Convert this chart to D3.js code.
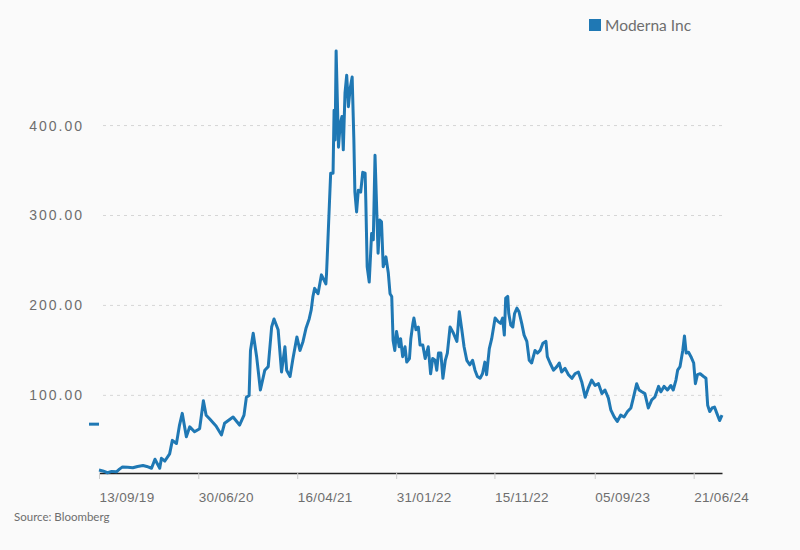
<!DOCTYPE html>
<html>
<head>
<meta charset="utf-8">
<script src="https://cdn.jsdelivr.net/npm/d3@7"></script>
<style>
  body { margin: 0; background: #fafafa; }
  svg { font-family: Lato, "Open Sans", sans-serif; }
  .line { fill: none; stroke: #1f78b4; stroke-width: 3; stroke-linejoin: round; }
  .grid line { stroke: #d6d6d6; stroke-dasharray: 3,4; }
  .label { fill: #6e6e6e; }
</style>
</head>
<body>
<script>
// Moderna Inc close
let dates = [
  "2019-09-13","2019-09-24","2019-10-08","2019-10-20","2019-11-03","2019-11-12","2019-11-21","2019-12-06",
  "2019-12-21","2020-01-04","2020-01-20","2020-01-31","2020-02-14","2020-02-24","2020-03-02","2020-03-09",
  "2020-03-14","2020-03-24","2020-04-07","2020-04-15","2020-04-27","2020-05-06","2020-05-14","2020-05-26",
  "2020-06-05","2020-06-19","2020-07-04","2020-07-15","2020-07-23","2020-08-02","2020-08-21","2020-09-06",
  "2020-09-15","2020-10-10","2020-10-29","2020-11-11","2020-11-18","2020-11-26","2020-11-30","2020-12-08",
  "2020-12-18","2020-12-29","2021-01-11","2021-01-21","2021-01-31","2021-02-07","2021-02-19","2021-03-01",
  "2021-03-11","2021-03-16","2021-03-26","2021-04-03","2021-04-15","2021-04-24","2021-05-03","2021-05-12",
  "2021-05-21","2021-05-27","2021-06-01","2021-06-06","2021-06-16","2021-06-26","2021-07-09","2021-07-11",
  "2021-07-19","2021-07-23","2021-07-30","2021-08-02","2021-08-05","2021-08-08","2021-08-15","2021-08-20",
  "2021-08-25","2021-08-29","2021-09-03","2021-09-08","2021-09-13","2021-09-18","2021-09-24","2021-09-29",
  "2021-10-02","2021-10-07","2021-10-12","2021-10-19","2021-10-25","2021-11-01","2021-11-03","2021-11-07",
  "2021-11-13","2021-11-20","2021-11-25","2021-11-30","2021-12-05","2021-12-09","2021-12-14","2021-12-19",
  "2021-12-24","2022-01-01","2022-01-08","2022-01-13","2022-01-18","2022-01-22","2022-01-27","2022-02-01",
  "2022-02-09","2022-02-13","2022-02-19","2022-02-26","2022-03-03","2022-03-11","2022-03-15","2022-03-21",
  "2022-03-24","2022-03-30","2022-04-06","2022-04-11","2022-04-19","2022-04-26","2022-05-05","2022-05-12",
  "2022-05-18","2022-05-25","2022-05-30","2022-06-04","2022-06-11","2022-06-17","2022-06-24","2022-06-30",
  "2022-07-08","2022-07-18","2022-07-28","2022-08-04","2022-08-11","2022-08-18","2022-08-26","2022-09-04",
  "2022-09-12","2022-09-19","2022-09-26","2022-10-04","2022-10-11","2022-10-18","2022-10-23","2022-10-31",
  "2022-11-07","2022-11-17","2022-11-26","2022-12-03","2022-12-09","2022-12-14","2022-12-18","2022-12-24",
  "2022-12-27","2023-01-02","2023-01-08","2023-01-13","2023-01-20","2023-01-26","2023-02-03","2023-02-10",
  "2023-02-18","2023-02-25","2023-03-04","2023-03-14","2023-03-21","2023-03-29","2023-04-06","2023-04-15",
  "2023-04-19","2023-04-27","2023-05-07","2023-05-17","2023-05-24","2023-05-31","2023-06-10","2023-06-20",
  "2023-06-30","2023-07-09","2023-07-19","2023-07-29","2023-08-08","2023-08-17","2023-08-27","2023-09-06",
  "2023-09-16","2023-09-26","2023-10-05","2023-10-15","2023-10-22","2023-11-01","2023-11-10","2023-11-20",
  "2023-11-30","2023-12-10","2023-12-20","2023-12-27","2024-01-06","2024-01-13","2024-01-21","2024-01-30",
  "2024-02-09","2024-02-19","2024-02-28","2024-03-10","2024-03-17","2024-03-26","2024-04-05","2024-04-15",
  "2024-04-22","2024-04-30","2024-05-05","2024-05-12","2024-05-20","2024-05-25","2024-05-30","2024-06-06",
  "2024-06-13","2024-06-21","2024-06-26","2024-07-02","2024-07-10","2024-07-20","2024-07-27","2024-08-01",
  "2024-08-07","2024-08-14","2024-08-21","2024-08-28","2024-09-05","2024-09-12"
];

let prices = [
  17, 16, 14, 15.5, 15, 18, 20.5, 20,
  19.5, 21, 22, 21, 19, 29, 24, 19,
  30, 27, 35, 50, 46.5, 67, 80, 54,
  65, 59.5, 63, 94, 78, 74, 66, 56,
  69, 76, 67, 78, 98, 100, 150, 169,
  143, 106, 128, 132, 176, 185, 173, 126,
  154, 128, 121, 140, 165, 150, 160, 175,
  185, 195, 210, 219, 213, 234, 224, 236,
  310, 347, 347, 417, 384, 483, 376, 402,
  410, 373, 436, 456, 421, 441, 454, 384,
  326, 304, 328, 326, 348, 347, 317, 243,
  226, 280, 273, 367, 306, 258, 295, 293,
  243, 254, 236, 213, 210, 161, 150, 171,
  154, 163, 143, 154, 137, 141, 163, 180,
  186, 173, 176, 156, 156, 141, 154, 124,
  141, 139, 128, 147, 147, 119, 139, 147,
  176, 169, 160, 193, 174, 154, 139, 134,
  139, 128, 121, 119, 124, 137, 123, 152,
  163, 186, 182, 180, 186, 167, 208, 210,
  191, 178, 176, 191, 197, 193, 180, 167,
  160, 139, 136, 150, 147, 150, 158, 160,
  143, 136, 128, 132, 136, 126, 130, 123,
  119, 124, 126, 115, 98, 108, 117, 111,
  113, 102, 106, 97, 84, 76, 71, 78,
  76, 82, 86, 97, 113, 106, 104, 102,
  86, 95, 98, 110, 104, 110, 106, 111,
  106, 117, 128, 132, 150, 166, 147, 148,
  143, 136, 113, 123, 124, 121, 119, 89,
  82, 86, 87, 80, 72, 78
];

let lastPrice = 68;
let seriesName = "Moderna Inc";
let yTicks = [100, 200, 300, 400];
let xTicks = ["2019-09-13", "2020-06-30", "2021-04-16", "2022-01-31", "2022-11-15", "2023-09-05", "2024-06-21"];
let source = "Source: Bloomberg";

let margin = {top: 50, right: 78, bottom: 77, left: 99},
    width  = 800 - margin.left - margin.right,
    height = 550 - margin.top  - margin.bottom;

let parse = d3.timeParse("%Y-%m-%d");
let data = dates.map((d, i) => ({date: parse(d), value: prices[i]}));

let root = d3.select("body").append("svg")
    .attr("width", 800)
    .attr("height", 550);

let svg = root.append("g")
    .attr("transform", `translate(${margin.left}, ${margin.top})`);

let xScale = d3.scaleTime()
    .domain([parse("2019-09-13"), parse("2024-09-12")])
    .range([0, width]);
let yScale = d3.scaleLinear()
    .domain([13.7, 484])
    .range([height, 0]);

// dotted grid
svg.append("g")
    .attr("class", "grid")
    .selectAll("line")
    .data(yTicks)
    .enter()
      .append("line")
      .attr("x1", 4)
      .attr("x2", width)
      .attr("y1", d => yScale(d))
      .attr("y2", d => yScale(d));

// y labels
let yAxis = d3.axisLeft(yScale)
    .tickValues(yTicks)
    .tickFormat(d3.format(".2f"))
    .tickSize(0)
    .tickPadding(15);
let gy = svg.append("g").call(yAxis);
gy.select(".domain").remove();
gy.selectAll("text")
    .attr("class", "label")
    .style("font-size", "14px")
    .style("letter-spacing", "2px");

// x axis
let xAxis = d3.axisBottom(xScale)
    .tickValues(xTicks.map(parse))
    .tickFormat(d3.timeFormat("%d/%m/%y"))
    .tickSize(6)
    .tickSizeOuter(0)
    .tickPadding(13);
let gx = svg.append("g")
    .attr("transform", `translate(0, ${height})`)
    .call(xAxis);
gx.select(".domain").attr("stroke", "#222").attr("stroke-width", 1.5);
gx.selectAll(".tick line").attr("stroke", "#ccc");
gx.selectAll("text")
    .attr("class", "label")
    .attr("text-anchor", "start")
    .style("font-size", "13.5px")
    .style("letter-spacing", "0.3px");

// price line
let line = d3.line()
    .x(d => xScale(d.date))
    .y(d => yScale(d.value));
svg.append("path")
    .datum(data)
    .attr("class", "line")
    .attr("d", line);

// last price marker at the left
svg.append("line")
    .attr("x1", -10)
    .attr("x2", 0)
    .attr("y1", yScale(lastPrice))
    .attr("y2", yScale(lastPrice))
    .attr("stroke", "#1f78b4")
    .attr("stroke-width", 3);

// legend
let legend = root.append("g").attr("transform", "translate(589, 19)");
legend.append("rect")
    .attr("width", 12)
    .attr("height", 12)
    .attr("fill", "#1f78b4");
legend.append("text")
    .attr("class", "label")
    .attr("x", 16)
    .attr("y", 12)
    .style("font-size", "15.5px")
    .text(seriesName);

root.append("text")
    .attr("class", "label")
    .attr("x", 14)
    .attr("y", 521)
    .style("font-size", "11.5px")
    .text(source);
</script>
</body>
</html>
